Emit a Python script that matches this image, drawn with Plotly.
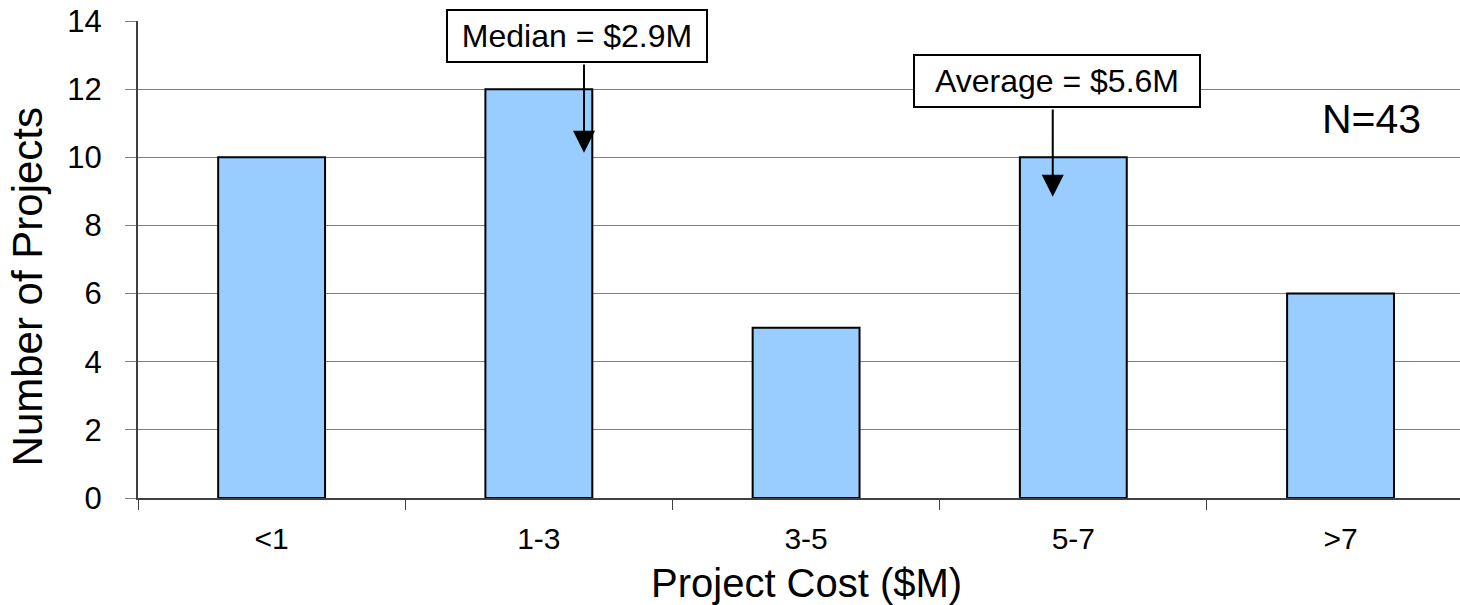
import plotly.graph_objects as go

# Project cost bins ($M) and number of projects in each
categories = ["<1", "1-3", "3-5", "5-7", ">7"]
projects = [10, 12, 5, 10, 6]

y_ticks = [0, 2, 4, 6, 8, 10, 12, 14]

median_label = "Median = $2.9M"
average_label = "Average = $5.6M"
count_label = "N=43"

FONT = "Liberation Sans, Arial, sans-serif"

fig = go.Figure(
    go.Bar(
        x=categories,
        y=projects,
        marker=dict(color="#99CCFF", line=dict(color="black", width=2)),
        width=0.4,
        hoverinfo="x+y",
    )
)

fig.update_layout(
    width=1460,
    height=605,
    margin=dict(l=138, r=0, t=21, b=107),
    paper_bgcolor="white",
    plot_bgcolor="white",
    showlegend=False,
    font=dict(family=FONT, color="black", size=31),
)

fig.update_xaxes(
    type="category",
    range=[-0.5, 4.447],
    tickson="boundaries",
    ticks="outside",
    ticklen=10,
    tickwidth=1,
    tickcolor="#404040",
    showline=True,
    linecolor="#404040",
    linewidth=2,
    showgrid=False,
    tickfont=dict(size=30),
    ticklabelstandoff=13,
)

fig.update_yaxes(
    range=[0, 14],
    tickvals=y_ticks,
    ticks="outside",
    ticklen=11,
    tickwidth=1,
    tickcolor="#808080",
    showline=True,
    linecolor="#404040",
    linewidth=2,
    showgrid=True,
    gridcolor="#808080",
    gridwidth=1,
    zeroline=False,
    tickfont=dict(size=31),
    ticklabelstandoff=17,
)

# Axis titles
fig.add_annotation(
    text="Project Cost ($M)", x=2, xref="x", y=0, yref="paper",
    yanchor="top", yshift=-61, showarrow=False, font=dict(size=40),
)
fig.add_annotation(
    text="Number of Projects", x=0, xref="paper", xanchor="center", xshift=-111,
    y=6.18, yref="y", yanchor="middle", textangle=-90, showarrow=False,
    font=dict(size=42),
)

# Callout boxes
box_style = dict(
    showarrow=False, bgcolor="white", bordercolor="black", borderwidth=2,
    borderpad=0, font=dict(size=32), xref="x", yref="y",
)
fig.add_annotation(text=median_label, x=1.143, y=13.56, width=258, height=50, **box_style)
fig.add_annotation(text=average_label, x=2.938, y=12.24, width=284, height=50, **box_style)

# Arrows from the callouts down into the bars
arrow_style = dict(
    text="", showarrow=True, arrowhead=2, arrowsize=2.2, arrowwidth=2,
    arrowcolor="black", xref="x", yref="y", axref="x", ayref="y",
)
fig.add_annotation(x=1.169, y=10.13, ax=1.169, ay=12.77, **arrow_style)
fig.add_annotation(x=2.923, y=8.84, ax=2.923, ay=11.45, **arrow_style)

# Sample size
fig.add_annotation(
    text=count_label, x=4.114, y=11.12, xref="x", yref="y",
    showarrow=False, font=dict(size=41),
)

fig.write_html("out.html")
